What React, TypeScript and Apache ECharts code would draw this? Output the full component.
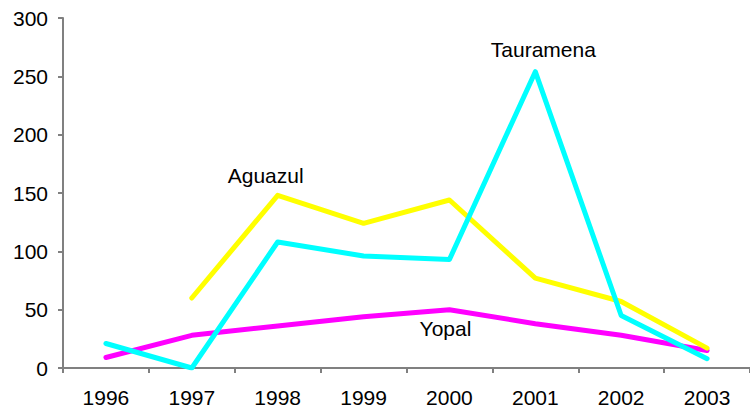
import React, { useEffect, useRef } from "react";
import * as echarts from "echarts";

const years = ["1996", "1997", "1998", "1999", "2000", "2001", "2002", "2003"];
const aguazul = [null, 60, 148, 124, 144, 77, 57, 17];
const tauramena = [21, 0, 108, 96, 93, 254, 45, 8];
const yopal = [9, 28, 36, 44, 50, 38, 28, 15];
const yTicks = { min: 0, max: 300, interval: 50 };

const FONT = "'Liberation Sans', Arial, sans-serif";

function labelled(values: (number | null)[], idx: number, name: string, offset: number[]) {
  return values.map((v, i) =>
    i === idx
      ? {
          value: v,
          label: {
            show: true,
            formatter: name,
            position: "inside",
            offset,
            color: "#000",
            fontSize: 21,
            fontFamily: FONT,
          },
        }
      : v
  );
}

export default function App() {
  const ref = useRef<HTMLDivElement>(null);
  useEffect(() => {
    if (!ref.current) return;
    const chart = echarts.init(ref.current, null, { renderer: "svg" });
    const lineCommon = {
      type: "line",
      showSymbol: true,
      symbol: "circle",
      symbolSize: 0,
      connectNulls: false,
      label: { show: false },
      z: 2,
    };
    chart.setOption({
      animation: false,
      backgroundColor: "#fff",
      grid: { left: 63, top: 18, width: 697, height: 350, containLabel: false },
      xAxis: {
        type: "category",
        data: years,
        boundaryGap: true,
        axisLine: { lineStyle: { color: "#808080", width: 2 } },
        axisTick: { show: true, length: 5, inside: false, lineStyle: { color: "#808080", width: 2 } },
        axisLabel: { color: "#000", fontSize: 21, fontFamily: FONT, margin: 19 },
        splitLine: { show: false },
      },
      yAxis: {
        type: "value",
        min: yTicks.min,
        max: yTicks.max,
        interval: yTicks.interval,
        axisLine: { show: true, lineStyle: { color: "#808080", width: 2 } },
        axisTick: { show: true, length: 5, inside: false, lineStyle: { color: "#808080", width: 2 } },
        axisLabel: { color: "#000", fontSize: 21, fontFamily: FONT, margin: 15 },
        splitLine: { show: false },
      },
      series: [
        {
          ...lineCommon,
          name: "Yopal",
          data: labelled(yopal, 4, "Yopal", [-4, 19]),
          lineStyle: { color: "#FF00FF", width: 5, cap: "round", join: "round" },
          itemStyle: { color: "#FF00FF" },
        },
        {
          ...lineCommon,
          name: "Aguazul",
          data: labelled(aguazul, 2, "Aguazul", [-12, -20]),
          lineStyle: { color: "#FFFF00", width: 5, cap: "round", join: "round" },
          itemStyle: { color: "#FFFF00" },
        },
        {
          ...lineCommon,
          name: "Tauramena",
          data: labelled(tauramena, 5, "Tauramena", [8, -22]),
          lineStyle: { color: "#00FFFF", width: 5, cap: "round", join: "round" },
          itemStyle: { color: "#00FFFF" },
        },
      ],
    });
    return () => chart.dispose();
  }, []);
  return (
    <div
      ref={ref}
      style={{ position: "fixed", left: 0, top: 0, width: 750, height: 411, background: "#fff" }}
    />
  );
}
